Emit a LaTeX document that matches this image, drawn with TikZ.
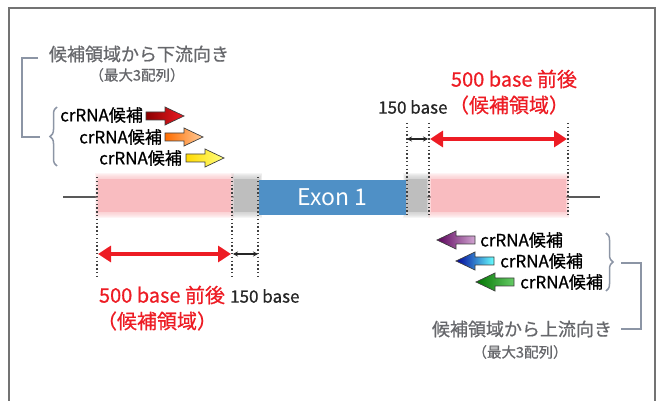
\documentclass[tikz,border=0pt]{standalone}
\usepackage{fontspec}
\setmainfont{Noto Sans CJK JP}
\newfontfamily\medfont[FakeBold=0.7]{Noto Sans CJK JP}
\usetikzlibrary{arrows.meta,decorations.pathreplacing}
\definecolor{redc}{HTML}{ED1C24}
\definecolor{greytxt}{HTML}{66676B}
\definecolor{brk}{HTML}{8C95A5}
\definecolor{exonc}{HTML}{4F90C6}
\definecolor{pinkc}{HTML}{F9BCC0}
\definecolor{greyreg}{HTML}{BEBEBE}
\newcommand\blurbox[5]{%
  \fill[#1] (#2,#3) rectangle (#4,#5);
  \foreach \e in {1,2,3,4,5,6}{\fill[#1,opacity=0.16] ({#2-\e*0.5},{#3-\e}) rectangle ({#4+\e*0.5},{#5+\e});}
}
\newcommand\crarR[4]{%
  \shade[left color=#3,right color=#4,draw=black!75,line width=0.7pt,line join=miter]
    (#1,{#2-4}) -- ({#1+19},{#2-4}) -- ({#1+19},{#2-9}) -- ({#1+38},#2) -- ({#1+19},{#2+9}) -- ({#1+19},{#2+4}) -- (#1,{#2+4}) -- cycle;}
\newcommand\crarL[4]{%
  \shade[left color=#3,right color=#4,draw=black!75,line width=0.7pt,line join=miter]
    (#1,#2) -- ({#1+19},{#2-9}) -- ({#1+19},{#2-4}) -- ({#1+38},{#2-4}) -- ({#1+38},{#2+4}) -- ({#1+19},{#2+4}) -- ({#1+19},{#2+9}) -- cycle;}
\begin{document}
\begin{tikzpicture}[x=1pt,y=-1pt,
  txt/.style={inner sep=0pt,font=\medfont\fontsize{17}{19}\selectfont},
  cr/.style={txt,anchor=west},
  gtitle/.style={inner sep=0pt,text=greytxt,font=\medfont\fontsize{18}{20}\selectfont},
  gsub/.style={inner sep=0pt,text=greytxt,font=\medfont\fontsize{14.5}{16}\selectfont},
  redlbl/.style={inner sep=0pt,text=redc,font=\medfont\fontsize{20}{22}\selectfont},
  blklbl/.style={inner sep=0pt,text=black!85,font=\medfont\fontsize{17}{19}\selectfont},
  dotl/.style={draw=black!75,line width=1.2pt,dash pattern=on 1.4pt off 2.4pt},
  reddim/.style={draw=redc,line width=3.5pt,{Triangle[length=13pt,width=16pt]}-{Triangle[length=13pt,width=16pt]}},
  blkdim/.style={draw=black!85,line width=1.2pt,{Stealth[length=5pt,width=5pt]}-{Stealth[length=5pt,width=5pt]}},
  brkline/.style={draw=brk,line width=1.3pt},
  bracest/.style={draw=brk,line width=1.5pt,decorate,decoration={brace,amplitude=7pt}}]
\useasboundingbox (0,0) rectangle (657,401);
% frame
\draw[black!55,line width=1.5pt] (9,8) rectangle (655,420);
% main line
\coordinate (L0) at (63,197);
\coordinate (L1) at (600,197);
\draw[black!65,line width=2.5pt] (L0) -- (L1);
% regions
\blurbox{pinkc}{98}{179}{231}{212}
\blurbox{greyreg}{234}{179}{259}{212}
\blurbox{greyreg}{406}{179}{427}{212}
\blurbox{pinkc}{431}{179}{566}{212}
% exon
\node[fill=exonc,minimum width=147pt,minimum height=35pt,inner sep=0pt,text=white,font=\fontsize{23}{25}\selectfont] (exon) at (332.5,197.5) {Exon 1};
% dotted lines left
\coordinate (a1) at (97,177); \coordinate (a1b) at (97,276);
\coordinate (a2) at (232,177); \coordinate (a2b) at (232,276);
\coordinate (a3) at (258,177); \coordinate (a3b) at (258,276);
\draw[dotl] (a1) -- (a1b); \draw[dotl] (a2) -- (a2b); \draw[dotl] (a3) -- (a3b);
% dotted lines right
\coordinate (b1) at (407,123); \coordinate (b1b) at (407,215);
\coordinate (b2) at (429,123); \coordinate (b2b) at (429,215);
\coordinate (b3) at (568,123); \coordinate (b3b) at (568,215);
\draw[dotl] (b1) -- (b1b); \draw[dotl] (b2) -- (b2b); \draw[dotl] (b3) -- (b3b);
% dimension arrows left
\coordinate (d1) at (98,254); \coordinate (d2) at (231,254);
\coordinate (d3) at (233,254); \coordinate (d4) at (258,254);
\draw[reddim] (d1) -- (d2);
\draw[blkdim] (d3) -- (d4);
% dimension arrows right
\coordinate (e1) at (430,139); \coordinate (e2) at (567,139);
\coordinate (e3) at (407,139); \coordinate (e4) at (428,139);
\draw[reddim] (e1) -- (e2);
\draw[blkdim] (e3) -- (e4);
% labels
\node[redlbl] (r1a) at (162,295) {500 base 前後};
\node[redlbl] (r1b) at (157,321) {（候補領域）};
\node[blklbl,anchor=west] (k1) at (230,296) {150 base};
\node[redlbl] (r2a) at (514,79) {500 base 前後};
\node[redlbl] (r2b) at (509,105) {（候補領域）};
\node[blklbl,anchor=west] (k2) at (378,107) {150 base};
% top-left group
\node[gtitle] (t1) at (139,54) {候補領域から下流向き};
\node[gsub] (t1s) at (137,75) {（最大3配列）};
\draw[brkline] (38,58) -- (22,58) -- (22,137) -- (40,137);
\draw[bracest] (57,166) -- (57,107);
\node[cr] (c1) at (60,115) {crRNA候補};
\node[cr] (c2) at (79,137) {crRNA候補};
\node[cr] (c3) at (99,158) {crRNA候補};
\crarR{146}{116}{red!55!black}{redc}
\crarR{165}{137}{orange!85!red}{orange!40!white}
\crarR{186}{158}{yellow!70!orange}{yellow!50!white}
% bottom-right group
\node[cr] (c4) at (480,240) {crRNA候補};
\node[cr] (c5) at (500,261) {crRNA候補};
\node[cr] (c6) at (520,282) {crRNA候補};
\crarL{437}{240}{violet!70!black}{violet!35!white}
\crarL{456}{261}{blue!60!black}{cyan!60!white}
\crarL{476}{282}{green!45!black}{green!50!white!80!black}
\draw[bracest] (606,233) -- (606,291);
\draw[brkline] (621,263) -- (641,263) -- (641,329) -- (621,329);
\node[gtitle] (t2) at (522,329) {候補領域から上流向き};
\node[gsub] (t2s) at (520,352) {（最大3配列）};
\end{tikzpicture}
\end{document}
